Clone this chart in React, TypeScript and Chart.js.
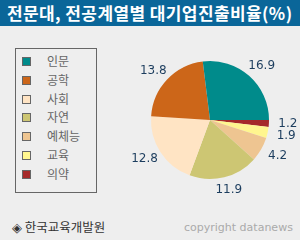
import React, { useEffect, useRef } from "react";
import { Chart, registerables } from "chart.js";

Chart.register(...registerables);

const title = "전문대, 전공계열별 대기업진출비율(%)";
const categories = ["인문", "공학", "사회", "자연", "예체능", "교육", "의약"];
const values = [16.9, 13.8, 12.8, 11.9, 4.2, 1.9, 1.2];
const colors = ["#008b8b", "#cc6619", "#ffe4c4", "#cdc673", "#eec591", "#fff68f", "#a52a2a"];
const source = "◈ 한국교육개발원";
const copyright = "copyright datanews";

const labelPlugin = {
  id: "outsideLabels",
  afterDatasetsDraw(chart: any) {
    const ctx = chart.ctx;
    const meta = chart.getDatasetMeta(0);
    const data = chart.data.datasets[0].data;
    ctx.save();
    ctx.font = "12px 'DejaVu Sans', Verdana, sans-serif";
    ctx.fillStyle = "#1c3d5e";
    ctx.textAlign = "center";
    ctx.textBaseline = "middle";
    meta.data.forEach((arc: any, i: number) => {
      const mid = (arc.startAngle + arc.endAngle) / 2;
      const x = arc.x + Math.cos(mid) * (arc.outerRadius + 19);
      const y = arc.y + Math.sin(mid) * (arc.outerRadius + 13);
      ctx.fillText(String(data[i]), x, y);
    });
    ctx.restore();
  },
};

export default function App() {
  const ref = useRef<HTMLCanvasElement>(null);
  useEffect(() => {
    const rev = <T,>(a: T[]) => a.slice().reverse();
    const chart = new Chart(ref.current!, {
      type: "pie",
      data: {
        labels: rev(categories),
        datasets: [
          {
            data: rev(values),
            backgroundColor: rev(colors),
            borderWidth: 0,
          },
        ],
      },
      options: {
        responsive: false,
        animation: false,
        rotation: 90,
        layout: { padding: { left: 151, right: 31, top: 61, bottom: 61 } },
        plugins: {
          legend: { display: false },
          tooltip: { enabled: false },
          title: { display: false },
        },
      },
      plugins: [labelPlugin],
    });
    return () => chart.destroy();
  }, []);

  const font = "'Noto Sans CJK KR', sans-serif";
  return (
    <div
      style={{
        position: "fixed",
        left: 0,
        top: 0,
        width: 300,
        height: 240,
        background: "#eeeeee",
        overflow: "hidden",
        fontFamily: font,
      }}
    >
      <div
        style={{
          position: "absolute",
          left: 0,
          top: 0,
          width: 300,
          height: 26,
          background: "#0a6699",
          color: "#ffffff",
          fontWeight: "bold",
          fontSize: 17,
          letterSpacing: 0.4,
          lineHeight: "26px",
          paddingLeft: 7,
          whiteSpace: "nowrap",
          boxSizing: "border-box",
        }}
      >
        {title}
      </div>
      <div
        style={{
          position: "absolute",
          left: 15,
          top: 48,
          width: 82,
          height: 145,
          border: "1px solid #666666",
          boxSizing: "border-box",
        }}
      />
      {categories.map((c, i) => (
        <React.Fragment key={c}>
          <div
            style={{
              position: "absolute",
              left: 22,
              top: 57 + i * 18.8,
              width: 9,
              height: 9,
              background: colors[i],
              border: "1px solid #666666",
              boxSizing: "border-box",
            }}
          />
          <div
            style={{
              position: "absolute",
              left: 47,
              top: 53 + i * 18.8,
              height: 16,
              fontSize: 12,
              color: "#666666",
              lineHeight: "16px",
              whiteSpace: "nowrap",
            }}
          >
            {c}
          </div>
        </React.Fragment>
      ))}
      <div
        style={{
          position: "absolute",
          left: 12,
          top: 219,
          fontSize: 12.5,
          color: "#333333",
          lineHeight: "16px",
          whiteSpace: "nowrap",
        }}
      >
        {source}
      </div>
      <div
        style={{
          position: "absolute",
          left: 184,
          top: 220,
          fontSize: 11,
          color: "#aaaaaa",
          lineHeight: "16px",
          fontFamily: "'DejaVu Sans', Verdana, sans-serif",
          whiteSpace: "nowrap",
        }}
      >
        {copyright}
      </div>
      <canvas
        ref={ref}
        width={300}
        height={240}
        style={{ position: "absolute", left: 0, top: 0, width: 300, height: 240 }}
      />
    </div>
  );
}
